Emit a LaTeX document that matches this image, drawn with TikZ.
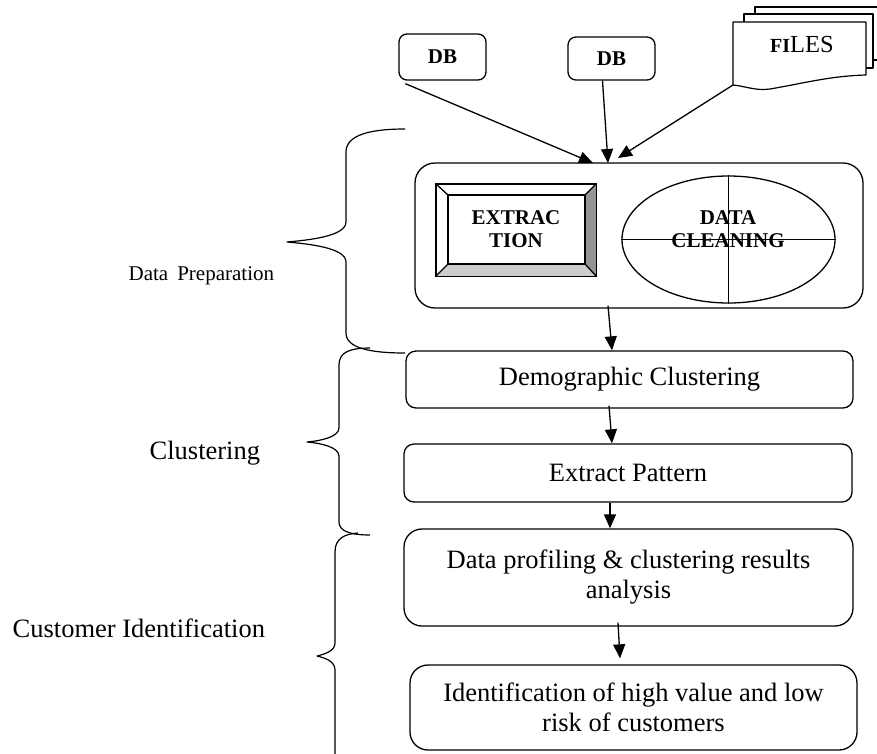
\documentclass[tikz,border=0pt]{standalone}
\usepackage{fontspec}
\setmainfont{Liberation Serif}
\usetikzlibrary{arrows.meta,shapes.geometric}
\begin{document}
\begin{tikzpicture}[x=1pt,y=-1pt,line width=1.3pt,line join=round,
  arr/.style={-{Triangle[length=14pt,width=12pt]},line width=1.3pt},
  bigtext/.style={font=\fontsize{26.5}{30}\selectfont,align=center},
  rbox/.style={draw,rounded corners=#1,inner sep=0pt,align=center,font=\fontsize{26.5}{30}\selectfont},
  dbbox/.style={draw,rounded corners=8pt,inner sep=0pt,font=\bfseries\fontsize{21}{22}\selectfont},
  boldtext/.style={font=\bfseries\fontsize{21}{23.5}\selectfont,align=center,inner sep=0pt},
  page/.style={draw,fill=white,line width=1.2pt}]
\useasboundingbox (0,0) rectangle (877,753);

% ---------- sources ----------
\node[dbbox,minimum width=87pt,minimum height=46pt] (db1) at (442.5,57) {DB};
\node[dbbox,minimum width=87pt,minimum height=43pt] (db2) at (611.5,58.5) {DB};

% file stack
\draw[page] (755,7) rectangle (890,60);
\draw[page] (744,14) rectangle (873,68);
\draw[page] (733,22) -- (866,22) -- (866,75)
  .. controls (830,76) and (805,83) .. (770,89)
  .. controls (755,91) and (745,86) .. (733,85) -- cycle;
\coordinate (files) at (733,85);
\node[inner sep=0pt] (filestext) at (802,45) {{\bfseries\fontsize{20}{21}\selectfont FI}{\fontsize{24.5}{25}\selectfont LES}};

% ---------- data preparation box ----------
\node[draw,rounded corners=20pt,minimum width=448pt,minimum height=145pt,inner sep=0pt] (prep) at (639,235.5) {};

% bevelled extraction box
\node[draw,minimum width=160pt,minimum height=92pt,inner sep=0pt] (ext) at (516,230) {};
\coordinate (i1) at (448,195);
\coordinate (i2) at (585,195);
\coordinate (i3) at (585,264);
\coordinate (i4) at (448,264);
\fill[black!42] (ext.north east) -- (ext.south east) -- (i3) -- (i2) -- cycle;
\fill[black!20] (ext.south west) -- (ext.south east) -- (i3) -- (i4) -- cycle;
\draw (ext.north west) rectangle (ext.south east);
\draw (i1) rectangle (i3);
\draw (ext.north west) -- (i1) (ext.north east) -- (i2) (ext.south east) -- (i3) (ext.south west) -- (i4);
\node[boldtext] (extt) at (516,229) {EXTRAC\\TION};

% data cleaning ellipse
\node[draw,ellipse,minimum width=213pt,minimum height=127pt,inner sep=0pt] (clean) at (728.5,239.5) {};
\draw (clean.west) -- (clean.east) (clean.north) -- (clean.south);
\node[boldtext] (cleant) at (728,229) {DATA\\CLEANING};

% ---------- process boxes ----------
\node[rbox=10pt,minimum width=447pt,minimum height=57pt] (demo) at (629.5,379.5) {Demographic Clustering};
\node[rbox=10pt,minimum width=448pt,minimum height=58pt] (pat) at (628,473) {Extract Pattern};
\node[rbox=18pt,minimum width=449pt,minimum height=97pt] (prof) at (628.5,577.5) {Data profiling \& clustering results\\analysis};
\node[rbox=18pt,minimum width=447pt,minimum height=85pt] (ident) at (633.5,707.5) {Identification of high value and low\\risk of customers};

% ---------- connectors ----------
\coordinate (t1) at (593,163);
\coordinate (t2) at (608,163);
\coordinate (t3) at (618,158);
\draw[arr] ([xshift=7pt,yshift=-3pt]db1.south west) -- (t1);
\draw[arr] ([xshift=-9pt]db2.south) -- (t2);
\draw[arr] (files) -- (t3);
\draw[arr] ([yshift=3pt]prep.south -| 608,0) -- (demo.north -| 612,0);
\draw[arr] ([yshift=3pt]demo.south -| 609,0) -- (pat.north -| 612,0);
\draw[arr] (pat.south -| 610,0) -- (prof.north -| 610,0);
\draw[arr] ([yshift=4pt]prof.south -| 618,0) -- ([yshift=6pt]ident.north -| 620,0);

% ---------- braces ----------
\draw[line width=1.2pt] (405,129) .. controls (370,129) and (346,135) .. (346,152) -- (346,222)
  .. controls (346,236) and (310,240) .. (287,242)
  .. controls (310,244) and (346,248) .. (346,262) -- (346,333)
  .. controls (346,348) and (370,353) .. (405,353);
\draw[line width=1.2pt] (370,348) .. controls (350,348) and (339,352) .. (339,365) -- (339,428)
  .. controls (339,437) and (320,441) .. (307,442)
  .. controls (320,443) and (339,447) .. (339,456) -- (339,522)
  .. controls (339,531) and (350,535) .. (370,535);
\draw[line width=1.2pt] (358,533) .. controls (345,534) and (335,538) .. (335,552) -- (335,643)
  .. controls (335,651) and (325,654) .. (317,656)
  .. controls (325,658) and (335,661) .. (335,670) -- (335,760);

% ---------- stage labels ----------
\node[inner sep=0pt,anchor=west,font=\fontsize{21}{24}\selectfont] (lprep) at (128,276) {Data\hspace{9pt}Preparation};
\node[inner sep=0pt,anchor=west,bigtext] (lclus) at (149,453) {Clustering};
\node[inner sep=0pt,anchor=west,bigtext] (lcust) at (12,628) {Customer Identification};
\end{tikzpicture}
\end{document}
